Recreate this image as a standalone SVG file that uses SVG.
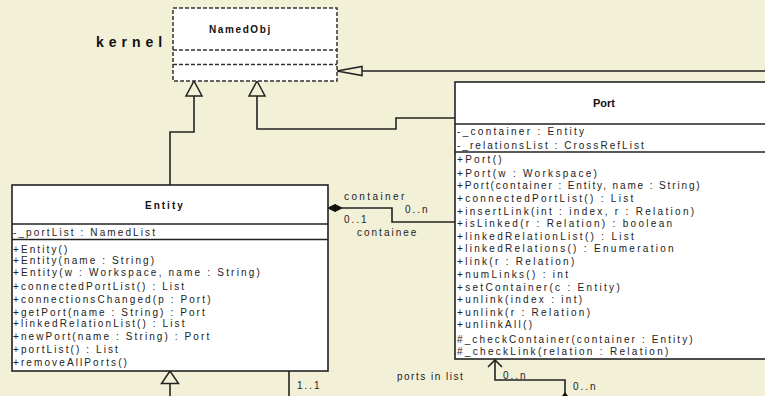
<svg xmlns="http://www.w3.org/2000/svg" width="765" height="396" viewBox="0 0 765 396">
<style>
.bg{fill:#f3f0d8}
.box{fill:#ffffff;stroke:#222;stroke-width:1.6}
.dbox{fill:#ffffff;stroke:#333;stroke-width:1.5;stroke-dasharray:4 2}
.ln{fill:none;stroke:#222;stroke-width:1.6}
.tri{fill:#f3f0d8;stroke:#222;stroke-width:1.5}
.t{font-family:"Liberation Sans",Arial,sans-serif;font-size:10px;letter-spacing:2px;fill:#222}
.pe{letter-spacing:2.1px}
.pp{letter-spacing:2.3px}
.h{font-family:"Liberation Sans",Arial,sans-serif;font-size:10px;font-weight:bold;fill:#111}
</style>
<rect class="bg" x="0" y="0" width="765" height="396"/>

<g id="connectors">
  <polyline class="ln" points="170,185 170,132 194,132 194,96"/>
  <polygon class="tri" points="194,81 186,96 202,96"/>
  <polyline class="ln" points="455,118 396,118 396,129 257,129 257,96"/>
  <polygon class="tri" points="257,81 249,96 265,96"/>
  <line class="ln" x1="765" y1="71" x2="362" y2="71"/>
  <polygon class="tri" points="337,71 362,66.5 362,75.5"/>
  <polyline class="ln" points="342,208 392,208 392,222 455,222"/>
  <polygon points="328,208 335,204.5 342,208 335,211.5" fill="#111" stroke="#111" stroke-width="1"/>
  <polygon class="tri" points="170,371 161.5,383.5 178.5,383.5"/>
  <line class="ln" x1="170" y1="383.5" x2="170" y2="396"/>
  <line class="ln" x1="289" y1="371" x2="289" y2="396"/>
  <polyline class="ln" points="488,367 495,360 502,367"/>
  <polyline class="ln" points="495,360 495,380 565,380 565,396"/>
  <polygon points="562,396 565,392 568,396" fill="#111"/>
  <text class="t" x="344" y="199.5" style="letter-spacing:2.4px">container</text>
  <text class="t" x="405" y="212.5">0..n</text>
  <text class="t" x="344" y="222.5">0..1</text>
  <text class="t" x="357" y="235.5">containee</text>
  <text class="t" x="297" y="388.5">1..1</text>
  <text class="t" x="397" y="379.5" style="letter-spacing:1.5px">ports in list</text>
  <text class="t" x="503" y="378.5">0..n</text>
  <text class="t" x="573" y="389.5">0..n</text>
</g>

<g id="kernel">
  <text x="96" y="47" style="font-family:'Liberation Sans',Arial,sans-serif;font-size:14px;font-weight:bold;letter-spacing:5px;fill:#111">kernel</text>
</g>

<g id="NamedObj">
  <rect class="dbox" x="173" y="8" width="164" height="73"/>
  <line class="dbox" x1="173" y1="50" x2="337" y2="50"/>
  <line class="dbox" x1="173" y1="64.5" x2="337" y2="64.5"/>
  <text class="h" x="209" y="33" style="letter-spacing:1.6px">NamedObj</text>
</g>

<g id="Entity">
  <rect class="box" x="12" y="185" width="316" height="186"/>
  <line class="ln" x1="12" y1="224" x2="328" y2="224"/>
  <line class="ln" x1="12" y1="239.5" x2="328" y2="239.5"/>
  <text class="h" x="145" y="208.5" style="letter-spacing:2px">Entity</text>
  <text class="t pe" x="13" y="235.5">-_portList : NamedList</text>
  <text class="t pe" x="13" y="252.5">+Entity()</text>
  <text class="t pe" x="13" y="263.5">+Entity(name : String)</text>
  <text class="t pe" x="13" y="275.5" textLength="249" lengthAdjust="spacing">+Entity(w : Workspace, name : String)</text>
  <text class="t pe" x="13" y="289.5">+connectedPortList() : List</text>
  <text class="t pe" x="13" y="302.5">+connectionsChanged(p : Port)</text>
  <text class="t pe" x="13" y="315.5">+getPort(name : String) : Port</text>
  <text class="t pe" x="13" y="326.5">+linkedRelationList() : List</text>
  <text class="t pe" x="13" y="339.5">+newPort(name : String) : Port</text>
  <text class="t pe" x="13" y="352.5">+portList() : List</text>
  <text class="t pe" x="13" y="365.5">+removeAllPorts()</text>
</g>

<g id="Port">
  <rect class="box" x="455" y="82" width="330" height="277"/>
  <line class="ln" x1="455" y1="124" x2="785" y2="124"/>
  <line class="ln" x1="455" y1="152" x2="785" y2="152"/>
  <text class="h" x="593" y="107" style="font-size:11px">Port</text>
  <text class="t pp" x="457" y="134.5">-_container : Entity</text>
  <text class="t pp" x="457" y="148.5" textLength="189" lengthAdjust="spacing">-_relationsList : CrossRefList</text>
  <text class="t pp" x="457" y="162.5">+Port()</text>
  <text class="t pp" x="457" y="176.5">+Port(w : Workspace)</text>
  <text class="t pp" x="457" y="188.5" textLength="245" lengthAdjust="spacing">+Port(container : Entity, name : String)</text>
  <text class="t pp" x="457" y="201.5">+connectedPortList() : List</text>
  <text class="t pp" x="457" y="214.5">+insertLink(int : index, r : Relation)</text>
  <text class="t pp" x="457" y="226.5">+isLinked(r : Relation) : boolean</text>
  <text class="t pp" x="457" y="239.5">+linkedRelationList() : List</text>
  <text class="t pp" x="457" y="251.5">+linkedRelations() : Enumeration</text>
  <text class="t pp" x="457" y="264.5">+link(r : Relation)</text>
  <text class="t pp" x="457" y="277.5">+numLinks() : int</text>
  <text class="t pp" x="457" y="290.5">+setContainer(c : Entity)</text>
  <text class="t pp" x="457" y="302.5">+unlink(index : int)</text>
  <text class="t pp" x="457" y="315.5">+unlink(r : Relation)</text>
  <text class="t pp" x="457" y="327.5">+unlinkAll()</text>
  <text class="t pp" x="457" y="342.5" textLength="238" lengthAdjust="spacing">#_checkContainer(container : Entity)</text>
  <text class="t pp" x="457" y="354.5">#_checkLink(relation : Relation)</text>
</g>
</svg>
